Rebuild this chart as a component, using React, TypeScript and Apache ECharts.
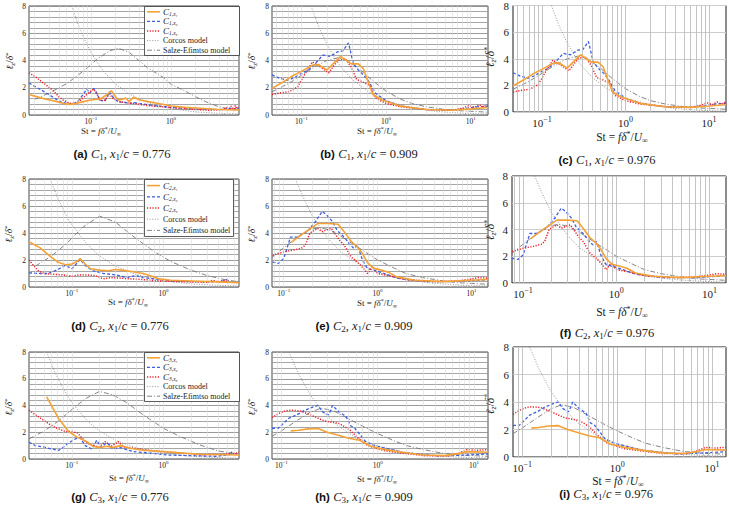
import React, { useEffect, useRef } from "react";
import * as echarts from "echarts";

type Pt = [number, number];

// ---------- C1, x1/c = 0.776 ----------
const a_x1: Pt[] = [[0.017,1.5],[0.021,1.35],[0.026,1.2],[0.032,1.08],[0.038,0.98],[0.046,0.85],[0.055,0.78],[0.065,0.85],[0.081,0.98],[0.1,1.1],[0.13,1.17],[0.155,1.45],[0.18,1.78],[0.2,1.4],[0.22,1.1],[0.25,1.15],[0.27,1.25],[0.3,0.98],[0.34,1.3],[0.41,1.1],[0.5,1.0],[0.67,0.86],[1.0,0.66],[1.5,0.56],[2.3,0.49],[3.5,0.42],[5,0.38],[7,0.37]];
const a_x2: Pt[] = [[0.017,2.35],[0.02,2.1],[0.024,1.85],[0.03,1.5],[0.036,1.2],[0.043,0.95],[0.05,0.85],[0.06,0.8],[0.07,1.05],[0.08,1.5],[0.089,1.9],[0.097,1.6],[0.105,1.85],[0.11,1.95],[0.12,1.55],[0.13,1.1],[0.15,1.0],[0.17,1.7],[0.19,1.3],[0.22,0.95],[0.26,0.95],[0.3,0.85],[0.35,0.9],[0.45,0.8],[0.6,0.7],[1,0.55],[2,0.45],[4,0.4],[5.5,0.5],[6,0.4],[6.5,0.55],[7,0.5]];
const a_x3: Pt[] = [[0.017,3.1],[0.021,2.75],[0.025,2.4],[0.03,2.05],[0.035,1.7],[0.04,1.35],[0.045,1.1],[0.055,0.85],[0.065,0.88],[0.075,1.1],[0.085,1.4],[0.1,1.75],[0.108,1.9],[0.12,1.5],[0.13,1.05],[0.15,1.1],[0.17,1.55],[0.19,1.2],[0.22,1.0],[0.27,0.9],[0.35,0.85],[0.5,0.7],[0.8,0.6],[1.5,0.45],[3,0.35],[4.5,0.4],[5,0.55],[5.3,0.35],[5.6,0.65],[6,0.4],[6.3,0.7],[6.6,0.45],[7,0.6]];
const a_corcos: Pt[] = [[0.058,8],[0.07,6.6],[0.085,5.45],[0.1,4.6],[0.125,3.7],[0.15,3.1],[0.2,2.3],[0.3,1.55],[0.5,0.93],[0.7,0.66],[1,0.46],[2,0.23],[4,0.12],[7,0.07]];
const a_salze: Pt[] = [[0.02,1.15],[0.03,1.6],[0.05,2.3],[0.08,3.2],[0.12,4.1],[0.17,4.7],[0.22,4.9],[0.3,4.6],[0.5,3.5],[0.8,2.75],[1,2.25],[1.5,1.75],[2,1.35],[3,0.85],[4,0.6],[5,0.48],[7,0.4]];

// ---------- C1, x1/c = 0.909 (the 0.976 record plots the same curves) ----------
const b_x1: Pt[] = [[0.045,1.95],[0.06,2.4],[0.08,2.9],[0.1,3.2],[0.135,3.65],[0.16,3.7],[0.2,3.3],[0.25,3.9],[0.29,4.3],[0.34,4.0],[0.39,3.75],[0.47,3.75],[0.54,3.4],[0.6,2.6],[0.7,1.5],[0.9,1.1],[1.5,0.65],[3,0.4],[6,0.35],[10,0.45],[16,0.55]];
const b_x2: Pt[] = [[0.045,2.95],[0.055,2.7],[0.068,2.55],[0.08,2.7],[0.1,3.05],[0.12,3.3],[0.14,3.65],[0.18,4.4],[0.22,4.3],[0.27,4.65],[0.31,4.7],[0.36,5.3],[0.41,3.8],[0.47,3.3],[0.55,2.9],[0.62,2.5],[0.75,1.6],[1,1.05],[1.5,0.65],[3,0.4],[6,0.35],[9,0.5],[12,0.6],[16,0.65]];
const b_x3: Pt[] = [[0.045,1.5],[0.06,1.65],[0.071,1.7],[0.09,2.05],[0.11,3.0],[0.135,3.9],[0.17,3.5],[0.21,3.1],[0.27,4.0],[0.33,4.15],[0.39,3.5],[0.45,2.6],[0.52,2.45],[0.65,2.15],[0.75,1.25],[1,0.85],[1.5,0.6],[3,0.4],[6,0.35],[8,0.5],[9.5,0.7],[11,0.55],[12.5,0.75],[14,0.6],[16,0.75]];
const b_corcos: Pt[] = [[0.13,8],[0.16,6.5],[0.2,5.2],[0.25,4.15],[0.3,3.45],[0.4,2.6],[0.6,1.75],[1,1.05],[2,0.52],[4,0.26],[8,0.13],[16,0.065]];
const b_salze: Pt[] = [[0.045,1.7],[0.07,2.3],[0.1,2.9],[0.15,3.6],[0.2,4.0],[0.27,4.2],[0.35,4.0],[0.5,3.3],[0.7,2.5],[1,1.75],[1.5,1.15],[2,0.85],[3,0.6],[5,0.4],[8,0.3],[12,0.25],[16,0.2]];

// ---------- C2, x1/c = 0.776 ----------
const d_x1: Pt[] = [[0.034,3.35],[0.045,2.9],[0.055,2.4],[0.07,1.85],[0.085,1.65],[0.1,1.7],[0.115,1.9],[0.123,2.1],[0.14,1.7],[0.16,1.35],[0.2,1.25],[0.25,1.2],[0.3,1.3],[0.35,1.25],[0.45,1.15],[0.6,1.0],[0.75,0.8],[0.9,0.6],[1.2,0.5],[2,0.45],[4,0.38],[6.7,0.32]];
const d_x2: Pt[] = [[0.034,1.05],[0.045,1.0],[0.055,1.0],[0.065,1.2],[0.075,1.4],[0.085,1.6],[0.1,1.35],[0.115,1.8],[0.123,2.05],[0.14,1.6],[0.17,1.2],[0.22,1.0],[0.3,0.9],[0.4,0.7],[0.5,0.85],[0.6,0.7],[0.8,0.6],[1.2,0.45],[2,0.4],[3.5,0.38],[4.5,0.45],[4.9,0.55],[5.2,0.4]];
const d_x3: Pt[] = [[0.034,2.0],[0.038,1.6],[0.043,1.2],[0.05,1.0],[0.06,0.95],[0.08,0.9],[0.1,0.8],[0.12,0.9],[0.15,0.88],[0.18,0.85],[0.22,0.6],[0.27,0.7],[0.35,0.65],[0.45,0.6],[0.6,0.55],[0.9,0.45],[1.5,0.4],[3,0.35],[3.5,0.5],[4,0.35],[4.5,0.5],[5,0.4]];
const d_corcos: Pt[] = [[0.058,8],[0.07,6.6],[0.085,5.4],[0.1,4.6],[0.15,3.1],[0.2,2.3],[0.3,1.55],[0.5,0.93],[1,0.46],[2,0.23],[4,0.12],[6.7,0.07]];
const d_salze: Pt[] = [[0.04,1.55],[0.06,2.3],[0.09,3.3],[0.13,4.4],[0.2,5.25],[0.3,4.8],[0.5,3.6],[0.8,2.6],[1.2,1.9],[2,1.25],[3,0.85],[5,0.5],[6.7,0.4]];

// ---------- C2, x1/c = 0.909 (0.976 identical) ----------
const e_x1: Pt[] = [[0.12,3.3],[0.15,3.8],[0.18,4.2],[0.23,4.7],[0.3,4.7],[0.38,4.65],[0.44,4.1],[0.52,3.4],[0.6,3.0],[0.68,2.55],[0.78,1.8],[0.9,1.4],[1.1,1.25],[1.3,1.1],[1.6,0.75],[2.5,0.5],[5,0.4],[10,0.5],[15,0.55]];
const e_x2: Pt[] = [[0.076,1.85],[0.088,1.75],[0.1,2.1],[0.118,3.7],[0.139,3.7],[0.178,4.1],[0.218,4.85],[0.257,5.6],[0.29,5.3],[0.33,4.85],[0.37,4.2],[0.44,3.7],[0.5,3.2],[0.56,2.85],[0.61,3.1],[0.69,2.0],[0.78,1.35],[0.92,1.25],[1.18,1.0],[1.63,0.65],[3.2,0.4],[7,0.4],[15,0.55]];
const e_x3: Pt[] = [[0.076,2.35],[0.1,2.6],[0.13,2.75],[0.157,2.9],[0.17,3.1],[0.19,4.0],[0.23,4.35],[0.257,4.1],[0.32,4.35],[0.39,3.5],[0.44,3.1],[0.52,2.25],[0.61,1.85],[0.7,1.4],[0.78,1.0],[0.88,1.5],[1.0,1.0],[1.3,0.85],[2,0.55],[4,0.4],[7,0.45],[10,0.6],[12,0.7],[15,0.65]];
const e_corcos: Pt[] = [[0.133,8],[0.16,6.7],[0.2,5.3],[0.25,4.3],[0.3,3.55],[0.4,2.65],[0.6,1.8],[1,1.07],[2,0.53],[4,0.27],[8,0.13],[15,0.07]];
const e_salze: Pt[] = [[0.075,2.2],[0.1,2.9],[0.14,3.7],[0.19,4.25],[0.24,4.4],[0.3,4.25],[0.4,3.8],[0.6,3.0],[1.0,2.0],[1.5,1.4],[2,1.0],[3,0.7],[5,0.45],[8,0.3],[15,0.2]];

// ---------- C3, x1/c = 0.776 ----------
const g_x1: Pt[] = [[0.053,4.65],[0.062,3.8],[0.072,3.0],[0.082,2.5],[0.092,2.05],[0.113,1.65],[0.146,1.3],[0.17,0.95],[0.2,0.85],[0.24,0.95],[0.28,0.85],[0.34,1.0],[0.43,0.8],[0.6,0.65],[1.0,0.55],[2.5,0.35],[6.7,0.3]];
const g_x2: Pt[] = [[0.034,1.25],[0.04,1.0],[0.049,0.9],[0.06,0.75],[0.072,0.65],[0.08,0.85],[0.088,1.1],[0.1,1.35],[0.109,1.5],[0.123,1.6],[0.14,1.0],[0.165,0.75],[0.187,1.4],[0.21,0.85],[0.24,1.25],[0.28,0.75],[0.34,0.85],[0.47,0.55],[0.7,0.45],[1.1,0.3],[2,0.25],[3.8,0.2],[5,0.3],[5.8,0.4],[6.7,0.35]];
const g_x3: Pt[] = [[0.034,3.65],[0.042,3.2],[0.049,2.9],[0.06,2.5],[0.069,2.3],[0.085,2.05],[0.1,2.05],[0.115,1.95],[0.134,1.45],[0.158,1.05],[0.2,0.9],[0.23,1.3],[0.27,0.95],[0.32,1.3],[0.37,0.9],[0.47,0.8],[0.7,0.65],[1.0,0.55],[2.5,0.32],[5,0.35],[5.5,0.5],[6,0.4],[6.7,0.5]];
const g_corcos: Pt[] = [[0.053,8],[0.065,6.5],[0.08,5.3],[0.1,4.2],[0.15,2.8],[0.2,2.1],[0.3,1.4],[0.5,0.84],[1,0.42],[2,0.21],[4,0.1],[6.7,0.06]];
const g_salze: Pt[] = [[0.034,1.5],[0.05,2.1],[0.07,2.8],[0.1,3.7],[0.14,4.5],[0.2,5.05],[0.28,4.8],[0.4,4.2],[0.6,3.3],[1.0,2.3],[1.5,1.7],[2.5,1.05],[4,0.6],[6.7,0.35]];

// ---------- C3, x1/c = 0.909 (0.976 identical) ----------
const h_x1: Pt[] = [[0.125,2.1],[0.15,2.15],[0.19,2.25],[0.24,2.28],[0.3,2.0],[0.4,1.75],[0.5,1.55],[0.65,1.4],[0.85,0.95],[1.2,0.7],[1.8,0.5],[3,0.3],[5,0.25],[7,0.4],[8.5,0.55],[14,0.5]];
const h_x2: Pt[] = [[0.08,2.3],[0.093,2.3],[0.12,3.05],[0.145,3.3],[0.17,3.6],[0.215,3.9],[0.24,4.0],[0.27,3.5],[0.31,3.3],[0.34,4.0],[0.4,3.5],[0.47,3.2],[0.52,2.5],[0.58,2.3],[0.66,1.8],[0.75,1.3],[0.93,1.0],[1.8,0.5],[4.3,0.22],[8.5,0.3],[14,0.38]];
const h_x3: Pt[] = [[0.08,3.1],[0.094,3.4],[0.11,3.6],[0.126,3.65],[0.156,3.6],[0.2,3.3],[0.28,2.85],[0.4,2.65],[0.51,2.2],[0.64,1.5],[0.79,1.0],[1.2,0.6],[2,0.4],[3.1,0.25],[5.5,0.25],[7,0.45],[8.5,0.7],[11,0.65],[14,0.7]];
const h_corcos: Pt[] = [[0.12,8],[0.15,6.4],[0.2,4.8],[0.25,3.85],[0.3,3.2],[0.4,2.4],[0.6,1.6],[1,0.96],[2,0.48],[4,0.24],[8,0.12],[14,0.07]];
const h_salze: Pt[] = [[0.08,1.7],[0.1,2.1],[0.14,2.8],[0.2,3.5],[0.26,3.8],[0.35,3.6],[0.5,3.0],[0.7,2.45],[1.0,1.9],[1.5,1.35],[2,1.0],[3,0.7],[5,0.4],[8,0.28],[14,0.2]];

const SERIF = "'Liberation Serif', 'DejaVu Serif', serif";
const SANS = "'Liberation Sans', 'DejaVu Sans', sans-serif";

const MODEL_NAMES = ["Corcos model", "Salze-Efimtso model"];

const LINE_STYLES = [
  { color: "#f4a236", dash: null as number[] | null, width: 1.6 },
  { color: "#3d5fe0", dash: [3, 2], width: 1.3 },
  { color: "#e8202a", dash: [1.2, 1.5], width: 1.5 },
  { color: "#8a8a8a", dash: [1, 1.6], width: 0.9 },
  { color: "#767676", dash: [5, 2, 1, 2], width: 0.9 },
];

interface Panel {
  id: string;
  cfg: number;
  pos: string;
  box: [number, number, number, number];
  range: [number, number];
  open: boolean;
  lines: Pt[][];
  legend?: [number, number, number, number]; // left, top, width, row height
  cap: [number, number];
  xName: [number, number];
  yName: [number, number];
}

const panels: Panel[] = [
  { id: "a", cfg: 1, pos: "0.776", box: [29, 6, 210, 109], range: [0.017, 7], open: false, lines: [a_x1, a_x2, a_x3, a_corcos, a_salze], legend: [144, 6, 95, 9.6], cap: [122, 154], xName: [101, 131], yName: [10, 61] },
  { id: "b", cfg: 1, pos: "0.909", box: [272, 6, 216, 109], range: [0.045, 16], open: false, lines: [b_x1, b_x2, b_x3, b_corcos, b_salze], cap: [369, 154], xName: [377, 131], yName: [252, 61] },
  { id: "c", cfg: 1, pos: "0.976", box: [513, 3, 213, 109], range: [0.045, 16], open: true, lines: [b_x1, b_x2, b_x3, b_corcos, b_salze], cap: [607, 160], xName: [622, 137], yName: [490, 57] },
  { id: "d", cfg: 2, pos: "0.776", box: [29, 179, 210, 108], range: [0.034, 6.7], open: false, lines: [d_x1, d_x2, d_x3, d_corcos, d_salze], legend: [144, 179, 89, 11.2], cap: [120, 326], xName: [128, 302], yName: [9, 234] },
  { id: "e", cfg: 2, pos: "0.909", box: [272, 179, 216, 108], range: [0.075, 15], open: false, lines: [e_x1, e_x2, e_x3, e_corcos, e_salze], cap: [364, 326], xName: [377, 303], yName: [252, 234] },
  { id: "f", cfg: 2, pos: "0.976", box: [512, 176, 214, 107], range: [0.076, 15], open: true, lines: [e_x1, e_x2, e_x3, e_corcos, e_salze], cap: [607, 333], xName: [622, 312], yName: [490, 230] },
  { id: "g", cfg: 3, pos: "0.776", box: [29, 352, 210, 107], range: [0.034, 6.7], open: false, lines: [g_x1, g_x2, g_x3, g_corcos, g_salze], legend: [144, 352, 95, 9.6], cap: [120, 497], xName: [129, 478], yName: [9, 407] },
  { id: "h", cfg: 3, pos: "0.909", box: [272, 352, 216, 107], range: [0.08, 14], open: false, lines: [h_x1, h_x2, h_x3, h_corcos, h_salze], cap: [364, 497], xName: [377, 479], yName: [252, 407] },
  { id: "i", cfg: 3, pos: "0.976", box: [513, 347, 213, 110], range: [0.08, 14], open: true, lines: [h_x1, h_x2, h_x3, h_corcos, h_salze], cap: [606, 494], xName: [618, 481], yName: [490, 404] },
];

// log-grid positions (1..9 × 10^k) strictly inside the axis range
function decadeGrid(lo: number, hi: number): number[] {
  const out: number[] = [];
  for (let e = Math.floor(Math.log10(lo)); e <= Math.ceil(Math.log10(hi)); e++) {
    for (let m = 1; m <= 9; m++) {
      const v = m * Math.pow(10, e);
      if (v > lo * 1.001 && v < hi * 0.999) out.push(+v.toPrecision(6));
    }
  }
  return out;
}

function powerLabel(v: number): string {
  const e = Math.round(Math.log10(v));
  if (Math.abs(v / Math.pow(10, e) - 1) > 1e-6) return "";
  return `{b|10}{p|${e < 0 ? "\u2212" + -e : e}}`;
}

const tickRich = (fs: number) => ({
  b: { fontFamily: SERIF, fontSize: fs, color: "#222" },
  p: { fontFamily: SERIF, fontSize: Math.round(fs * 0.72), color: "#222", padding: [0, 0, Math.round(fs * 0.6), 0] },
});

const textRich = (fs: number) => ({
  r: { fontFamily: SERIF, fontSize: fs, fill: "#222" },
  i: { fontFamily: SERIF, fontSize: fs, fontStyle: "italic", fill: "#222" },
  s: { fontFamily: SERIF, fontSize: Math.round(fs * 0.7), fontStyle: "italic", fill: "#222", padding: [Math.round(fs * 0.5), 0, 0, 0] },
  p: { fontFamily: SERIF, fontSize: Math.round(fs * 0.7), fill: "#222", padding: [0, 0, Math.round(fs * 0.55), 0] },
  b: { fontFamily: SANS, fontSize: fs - 1, fontWeight: "bold", fill: "#111" },
  n: { fontFamily: SERIF, fontSize: Math.round(fs * 0.7), fill: "#222", padding: [Math.round(fs * 0.5), 0, 0, 0] },
});

const legendRich = {
  r: { fontFamily: SERIF, fontSize: 8, fill: "#222" },
  i: { fontFamily: SERIF, fontSize: 9, fontStyle: "italic", fill: "#222" },
  s: { fontFamily: SERIF, fontSize: 5.5, fontStyle: "italic", fill: "#222", padding: [4, 0, 0, 0] },
};

function buildOption() {
  const grid: any[] = [];
  const xAxis: any[] = [];
  const yAxis: any[] = [];
  const series: any[] = [];
  const graphic: any[] = [];

  panels.forEach((p, i) => {
    const open = p.open;
    grid.push({
      left: p.box[0], top: p.box[1], width: p.box[2], height: p.box[3],
      show: true, borderColor: open ? "#1a1a1a" : "#4a4a4a", borderWidth: 1, backgroundColor: "#fff",
    });
    xAxis.push({
      type: "log", logBase: 10, gridIndex: i, min: p.range[0], max: p.range[1],
      axisLine: { show: false }, axisTick: { show: false }, splitLine: { show: false },
      axisLabel: { formatter: powerLabel, margin: open ? 3 : 1, rich: tickRich(open ? 11 : 7.5) },
    });
    yAxis.push({
      type: "value", gridIndex: i, min: 0, max: 8, interval: 2,
      axisLine: { show: false }, axisTick: { show: false },
      axisLabel: { fontFamily: SERIF, fontSize: open ? 11 : 7.5, color: "#222", margin: open ? 4 : 3 },
      splitLine: { show: true, lineStyle: { color: open ? "#cdcdcd" : "#8e8e8e", width: open ? 1 : 0.9 } },
      minorTick: { show: false, splitNumber: 5 },
      minorSplitLine: { show: !open, lineStyle: { color: "#9c9c9c", width: 0.9 } },
    });

    // vertical log grid
    series.push({
      type: "line", xAxisIndex: i, yAxisIndex: i, data: [], silent: true, symbol: "none", z: 1,
      markLine: {
        silent: true, symbol: ["none", "none"], label: { show: false }, animation: false,
        lineStyle: { color: open ? "#bdbdbd" : "#dadada", width: open ? 0.9 : 0.6, type: "solid" },
        emphasis: { disabled: true },
        data: decadeGrid(p.range[0], p.range[1]).map((v) => ({ xAxis: v })),
      },
    });

    p.lines.forEach((arr, k) => {
      const st = LINE_STYLES[k];
      series.push({
        type: "line", xAxisIndex: i, yAxisIndex: i, data: arr,
        symbol: "none", showSymbol: false, silent: true, clip: true, z: k === 0 ? 5 : k >= 3 ? 3 : 4,
        lineStyle: { color: st.color, type: st.dash ?? "solid", width: st.width },
        itemStyle: { color: st.color },
        emphasis: { disabled: true },
      });
    });

    // boxed key inside the upper-right corner of the plot
    if (p.legend) {
      const [lx, ly, lw, rh] = p.legend;
      const labels = [1, 2, 3].map((n) => `{i|C}{s|${p.cfg},x${["", "\u2081", "\u2082", "\u2083"][n]}}`).concat(MODEL_NAMES.map((m) => `{r|${m}}`));
      graphic.push({
        type: "rect", z: 20, silent: true,
        shape: { x: lx + 0.5, y: ly + 0.5, width: lw, height: rh * 5 + 1 },
        style: { fill: "#fff", stroke: "#333", lineWidth: 0.8 },
      });
      labels.forEach((lab, k) => {
        const st = LINE_STYLES[k];
        const cy = ly + 1 + rh * (k + 0.5);
        graphic.push({
          type: "line", z: 21, silent: true,
          shape: { x1: lx + 3, y1: cy, x2: lx + 16, y2: cy },
          style: { stroke: st.color, lineWidth: st.width, lineDash: st.dash ?? undefined },
        });
        graphic.push({
          type: "text", z: 21, silent: true, x: lx + 19, y: cy,
          style: { text: lab, textAlign: "left", textVerticalAlign: "middle", fill: "#222", rich: legendRich },
        });
      });
    }

    const fsCap = 12.5;
    graphic.push({
      type: "text", x: p.cap[0], y: p.cap[1], silent: true,
      style: {
        text: `{b|(${p.id})} {i|C}{n|${p.cfg}}{r|, }{i|x}{n|1}{r|/}{i|c}{r| = ${p.pos}}`,
        textAlign: "center", textVerticalAlign: "middle", fill: "#222", rich: textRich(fsCap),
      },
    });
    const fsX = open ? 11.5 : 9;
    graphic.push({
      type: "text", x: p.xName[0], y: p.xName[1], silent: true,
      style: {
        text: `{r|St = }{i|f\u03b4}{p|*}{r|/}{i|U}{n|\u221e}`,
        textAlign: "center", textVerticalAlign: "middle", fill: "#222", rich: textRich(fsX),
      },
    });
    const fsY = open ? 11.5 : 9.5;
    graphic.push({
      type: "text", x: p.yName[0], y: p.yName[1], rotation: Math.PI / 2, silent: true,
      style: {
        text: `{i|\u2113}{s|z}{r|/}{i|\u03b4}{p|*}`,
        textAlign: "center", textVerticalAlign: "middle", fill: "#222", rich: textRich(fsY),
      },
    });
  });

  return { animation: false, backgroundColor: "#fff", grid, xAxis, yAxis, series, graphic };
}

export default function App() {
  const ref = useRef<HTMLDivElement>(null);
  useEffect(() => {
    if (!ref.current) return;
    const chart = echarts.init(ref.current, undefined, { renderer: "svg" });
    chart.setOption(buildOption() as any);
    return () => chart.dispose();
  }, []);
  return (
    <div
      ref={ref}
      style={{ position: "absolute", left: 0, top: 0, width: 729, height: 512, background: "#fff" }}
    />
  );
}
